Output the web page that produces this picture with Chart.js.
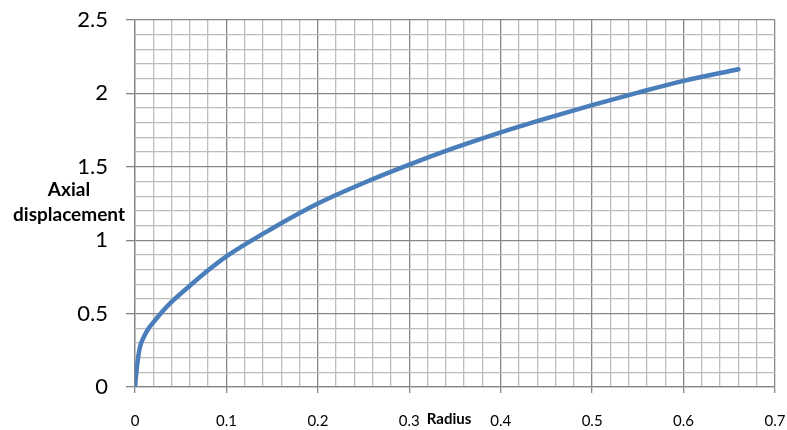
<!DOCTYPE html>
<html>
<head>
<meta charset="utf-8">
<script src="https://cdn.jsdelivr.net/npm/chart.js@4.4.1/dist/chart.umd.min.js"></script>
<style>
  html, body { margin: 0; padding: 0; background: #fff; }
  #wrap { width: 787px; height: 430px; }
</style>
</head>
<body>
<div id="wrap"><canvas id="radiusChart" width="787" height="430"></canvas></div>
<script>
// values
const radius = [0, 0.002, 0.005, 0.01, 0.015, 0.02, 0.03, 0.04, 0.06, 0.08, 0.1, 0.15, 0.2, 0.25, 0.3, 0.35, 0.4, 0.45, 0.5, 0.55, 0.6, 0.66];
const axialDisp = [0, 0.13, 0.26, 0.345, 0.40, 0.44, 0.515, 0.58, 0.69, 0.795, 0.89, 1.08, 1.25, 1.39, 1.515, 1.63, 1.735, 1.83, 1.92, 2.005, 2.085, 2.165];
const xMajorLabels = ['0', '0.1', '0.2', '0.3', '0.4', '0.5', '0.6', '0.7'];
const yMajorLabels = ['0', '0.5', '1', '1.5', '2', '2.5'];

const FONT = 'Lato, "Open Sans", sans-serif';
const MAJOR = '#868686';
const MINOR = '#bdbdbd';

const isMajor = (v, step) => Math.abs(v / step - Math.round(v / step)) < 1e-6;

const labelPlugin = {
    id: 'axisTitles',
    afterDraw(chart) {
        const c = chart.ctx;
        c.save();
        c.fillStyle = '#000';
        c.textAlign = 'center';
        c.textBaseline = 'alphabetic';
        c.font = 'bold 19px ' + FONT;
        c.fillText('Axial', 69, 196);
        c.fillText('displacement', 69, 221);
        c.font = 'bold 15px ' + FONT;
        c.fillText('Radius', 449, 424);
        c.restore();
    }
};

const points = radius.map((r, i) => ({ x: r, y: axialDisp[i] }));

new Chart(document.getElementById('radiusChart').getContext('2d'), {
    type: 'line',
    data: {
        datasets: [{
            data: points,
            borderColor: '#4a7ebb',
            borderWidth: 4.5,
            borderCapStyle: 'round',
            pointRadius: 0,
            fill: false,
            cubicInterpolationMode: 'monotone'
        }]
    },
    options: {
        responsive: false,
        animation: false,
        layout: { padding: { left: 0, right: 12, top: 20, bottom: 0 } },
        plugins: { legend: { display: false }, tooltip: { enabled: false } },
        scales: {
            x: {
                type: 'linear',
                min: 0, max: 0.7,
                afterFit(scale) {
                    scale.height = 43;
                    scale.paddingLeft = 0;
                    scale.paddingRight = 0;
                },
                border: { color: MAJOR, width: 1.3 },
                grid: {
                    color: ctx => isMajor(ctx.tick.value, 0.1) ? MAJOR : MINOR,
                    tickColor: ctx => isMajor(ctx.tick.value, 0.1) ? MAJOR : 'rgba(0,0,0,0)',
                    lineWidth: 1.3,
                    tickLength: 6
                },
                ticks: {
                    stepSize: 0.02,
                    autoSkip: false,
                    maxRotation: 0,
                    padding: 19,
                    color: '#000',
                    font: { family: FONT, size: 15 },
                    callback: v => isMajor(v, 0.1) ? xMajorLabels[Math.round(v / 0.1)] : ''
                }
            },
            y: {
                min: 0, max: 2.5,
                afterFit(scale) {
                    scale.width = 135;
                    scale.paddingTop = 0;
                    scale.paddingBottom = 0;
                },
                border: { color: MAJOR, width: 1.3 },
                grid: {
                    color: ctx => isMajor(ctx.tick.value, 0.5) ? MAJOR : MINOR,
                    tickColor: ctx => isMajor(ctx.tick.value, 0.5) ? MAJOR : 'rgba(0,0,0,0)',
                    lineWidth: 1.3,
                    tickLength: 9
                },
                ticks: {
                    stepSize: 0.1,
                    autoSkip: false,
                    padding: 18,
                    color: '#000',
                    font: { family: FONT, size: 22 },
                    callback: v => isMajor(v, 0.5) ? yMajorLabels[Math.round(v / 0.5)] : ''
                }
            }
        }
    },
    plugins: [labelPlugin]
});
</script>
</body>
</html>
